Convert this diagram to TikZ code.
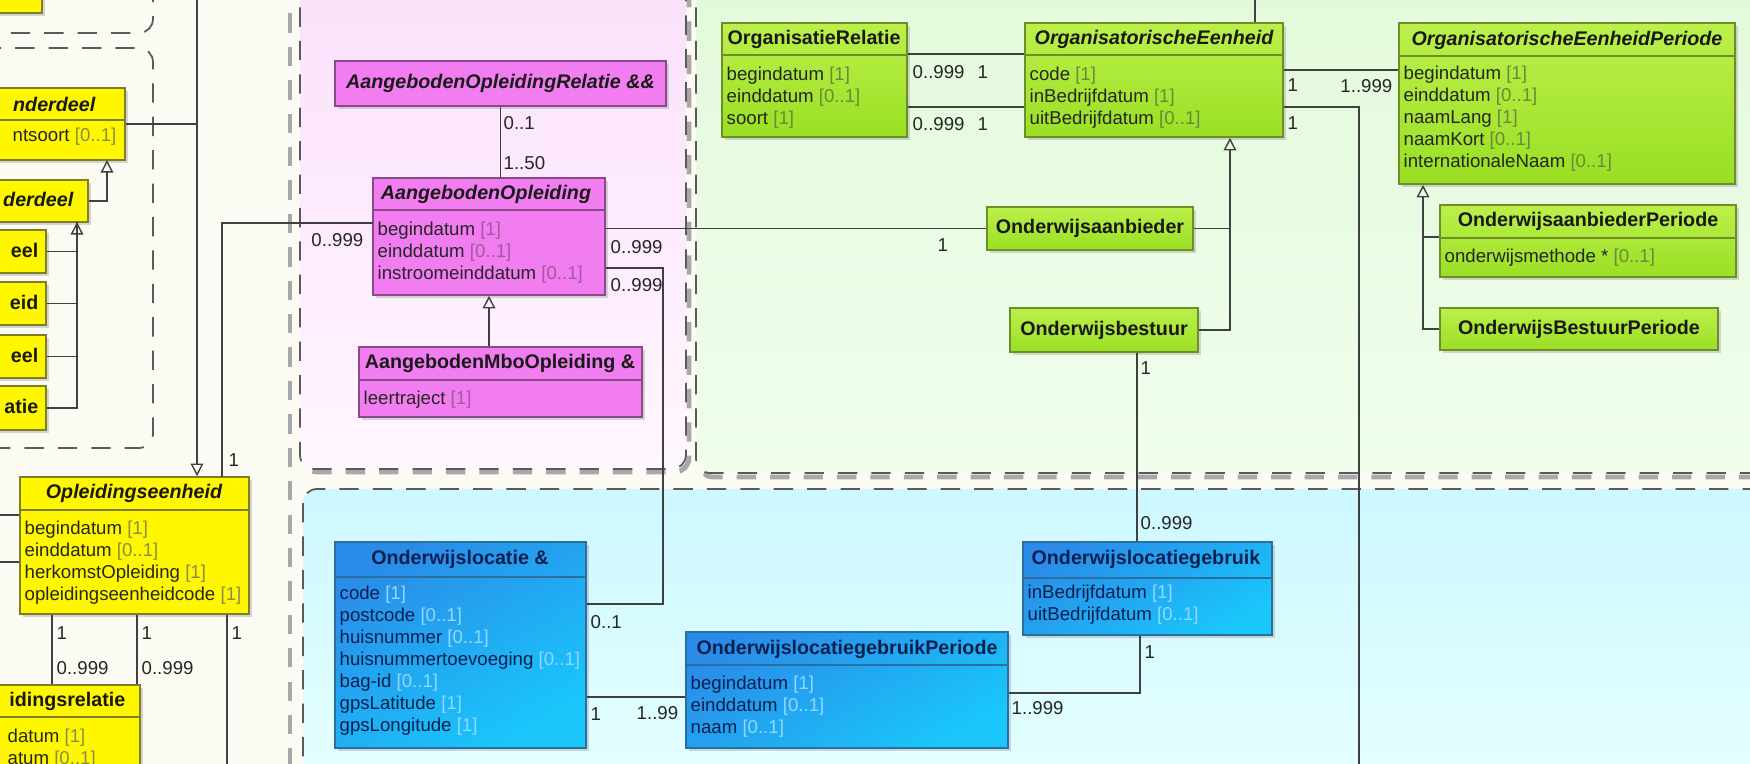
\documentclass[tikz,border=0pt]{standalone}
\usepackage{fontspec}
\setmainfont{Liberation Sans}
\usetikzlibrary{arrows.meta,fit,shadows}

\definecolor{leftbg}{HTML}{FBFBF3}
\definecolor{pkgline}{HTML}{5A5A5A}
\definecolor{shd}{HTML}{A8A8A8}
\definecolor{pnkpkgtop}{HTML}{FBE0FB}
\definecolor{pnkpkgbot}{HTML}{FFF6FF}
\definecolor{grnpkgtop}{HTML}{E2F9DA}
\definecolor{grnpkgbot}{HTML}{F0FEEC}
\definecolor{cyapkgtop}{HTML}{CDF8FF}
\definecolor{cyapkgbot}{HTML}{E6FFFF}
\definecolor{ylwfill}{HTML}{FFF700}
\definecolor{ylwline}{HTML}{7D7D2A}
\definecolor{ylwmc}{HTML}{8C8C4A}
\definecolor{pnkfill}{HTML}{F27DF0}
\definecolor{pnkline}{HTML}{8A4A8A}
\definecolor{pnkmc}{HTML}{A05AA0}
\definecolor{grntop}{HTML}{BCF04A}
\definecolor{grnbot}{HTML}{9ADF24}
\definecolor{grnline}{HTML}{6E8E2A}
\definecolor{grnmc}{HTML}{6A8A3A}
\definecolor{blutop}{HTML}{2A8CE8}
\definecolor{blubot}{HTML}{19C7FB}
\definecolor{bluline}{HTML}{2B6FA0}
\definecolor{blumc}{HTML}{8FD8FF}
\definecolor{bluttl}{HTML}{0C2050}
\definecolor{conline}{HTML}{404040}
\colorlet{mcol}{gray}

\newcommand{\card}[1]{\textcolor{mcol}{#1}}

\tikzset{
  box/.style={draw, line width=0.45pt, inner sep=0pt,
    drop shadow={shadow xshift=0.9pt, shadow yshift=-0.9pt, opacity=0.3}},
  ybox/.style={box, draw=ylwline, fill=ylwfill},
  pbox/.style={box, draw=pnkline, fill=pnkfill},
  gbox/.style={box, draw=grnline, top color=grntop, bottom color=grnbot},
  bbox/.style={box, draw=bluline, top color=blutop, bottom color=blubot, shading angle=30},
  ttl/.style={inner sep=0pt, text=black!90, font=\fontsize{5.6}{6.4}\selectfont\bfseries},
  ittl/.style={ttl, font=\fontsize{5.6}{6.4}\selectfont\bfseries\itshape},
  bttl/.style={ttl, text=bluttl},
  attr/.style={inner sep=0pt, anchor=north west, align=left, text=black!85,
    font=\fontsize{5.3}{6.25}\selectfont},
  yattr/.style={attr, execute at begin node={\colorlet{mcol}{ylwmc}}},
  pattr/.style={attr, execute at begin node={\colorlet{mcol}{pnkmc}}},
  gattr/.style={attr, execute at begin node={\colorlet{mcol}{grnmc}}},
  battr/.style={attr, text=bluttl, execute at begin node={\colorlet{mcol}{blumc}}},
  mlt/.style={inner sep=0pt, text=black!85, font=\fontsize{5.3}{6.25}\selectfont},
  sepl/.style={line width=0.4pt},
  conn/.style={draw=conline, line width=0.4pt},
  gen/.style={conn, -{Triangle[open, length=3.6pt, width=3.6pt]}},
  pkg/.style={draw=pkgline, line width=0.5pt, dash pattern=on 5.5pt off 4pt, rounded corners=4pt},
  pkgshd/.style={draw=shd, line width=1.4pt, dash pattern=on 5.5pt off 4pt, rounded corners=4pt},
}

\begin{document}
\begin{tikzpicture}[x=0.01cm, y=-0.01cm]
\useasboundingbox (0,0) rectangle (1750,764);
\clip (0,0) rectangle (1750,764);
\fill[leftbg] (0,0) rectangle (1750,764);

% packages
\draw[pkg] (-30,-80) rectangle (153,33);
\draw[pkg] (-30,48) rectangle (153,448);
\draw[pkgshd, rounded corners=0pt] (290,-20) -- (290,790);
\draw[pkgshd] (303,-40) rectangle (689,472);
\path[pkg, top color=pnkpkgtop, bottom color=pnkpkgbot] (300,-40) rectangle (686,469);
\draw[pkgshd] (699,-40) rectangle (1790,477);
\path[pkg, top color=grnpkgtop, bottom color=grnpkgbot] (696,-40) rectangle (1790,473);
\path[pkg, top color=cyapkgtop, bottom color=cyapkgbot] (303,489) rectangle (1790,800);

% yellow part, left
\node[ybox, fit={(-20,-20) (42,13)}] (topfrag) {};
\node[ybox, fit={(-20,88) (125,160)}] (ond) {};
\draw[sepl, ylwline] (ond.west |- 0,120) -- (ond.east |- 0,120);
\node[ittl, anchor=east] (ond-t) at (96,104) {nderdeel};
\node[yattr, anchor=east] (ond-a) at (117,137) {ntsoort \card{[0..1]}};
\node[ybox, fit={(-20,180) (88,222)}] (drd) {};
\node[ittl, anchor=east] (drd-t) at (74,199) {derdeel};
\node[ybox, fit={(-20,230) (46,273)}] (e1) {};
\node[ttl, anchor=east] (e1-t) at (39,250) {eel};
\node[ybox, fit={(-20,282) (46,325)}] (e2) {};
\node[ttl, anchor=east] (e2-t) at (39,302) {eid};
\node[ybox, fit={(-20,335) (46,378)}] (e3) {};
\node[ttl, anchor=east] (e3-t) at (39,355) {eel};
\node[ybox, fit={(-20,386) (46,430)}] (e4) {};
\node[ttl, anchor=east] (e4-t) at (39,406) {atie};

\coordinate (ondg) at (107,160);
\coordinate (drdg) at (77,222);
\coordinate (gtop) at (197,-10);
\draw[gen] (drd.east) -| (ondg);
\draw[conn] (e4.east) -| (drdg);
\draw[conn] (e1.east) -- (e1.east -| drdg);
\draw[conn] (e2.east) -- (e2.east -| drdg);
\draw[conn] (e3.east) -- (e3.east -| drdg);
\draw[gen] (e1.east -| drdg) -- (drdg);

\node[ybox, fit={(20,477) (249,614)}] (opl) {};
\draw[sepl, ylwline] (opl.west |- 0,510) -- (opl.east |- 0,510);
\node[ittl] (opl-t) at (134,493) {Opleidingseenheid};
\node[yattr] (opl-a) at (24,520) {begindatum \card{[1]}\\einddatum \card{[0..1]}\\herkomstOpleiding \card{[1]}\\opleidingseenheidcode \card{[1]}};
\node[ybox, fit={(-20,685) (140,790)}] (ir) {};
\draw[sepl, ylwline] (ir.west |- 0,717) -- (ir.east |- 0,717);
\node[ttl, anchor=east] (ir-t) at (126,701) {idingsrelatie};
\node[yattr] (ir-a) at (7,728) {datum \card{[1]}\\atum \card{[0..1]}};

\draw[gen] (gtop) -- (gtop |- opl.north);
\draw[conn] (ond.east) -- (ond.east -| gtop);
\draw[conn] (opl.west |- 0,515) -- (-5,515);
\draw[conn] (opl.west |- 0,562) -- (-5,562);
\draw[conn] (opl.south -| 52,0) -- (ir.north -| 52,0);
\draw[conn] (opl.south -| 137,0) -- (ir.north -| 137,0);
\draw[conn] (opl.south -| 227,0) -- (227,790);
\node[mlt, anchor=west] (m-o1) at (56,633) {1};
\node[mlt, anchor=west] (m-o2) at (56,668) {0..999};
\node[mlt, anchor=west] (m-o3) at (141,633) {1};
\node[mlt, anchor=west] (m-o4) at (141,668) {0..999};
\node[mlt, anchor=west] (m-o5) at (231,633) {1};

% pink package
\node[pbox, fit={(335,61) (666,106)}] (aor) {};
\node[ittl] (aor-t) at (aor.center) {AangebodenOpleidingRelatie \&\&};
\node[pbox, fit={(373,178) (605,295)}] (ao) {};
\draw[sepl, pnkline] (ao.west |- 0,210) -- (ao.east |- 0,210);
\node[ittl] (ao-t) at (486,194) {AangebodenOpleiding};
\node[pattr] (ao-a) at (377,221) {begindatum \card{[1]}\\einddatum \card{[0..1]}\\instroomeinddatum \card{[0..1]}};
\node[pbox, fit={(359,347) (642,417)}] (mbo) {};
\draw[sepl, pnkline] (mbo.west |- 0,380) -- (mbo.east |- 0,380);
\node[ttl] (mbo-t) at (500,363) {AangebodenMboOpleiding \&};
\node[pattr] (mbo-a) at (363,390) {leertraject \card{[1]}};

\draw[conn] (aor.south) -- (aor.south |- ao.north);
\node[mlt, anchor=west] (m-a1) at (503,123) {0..1};
\node[mlt, anchor=west] (m-a2) at (503,163) {1..50};
\draw[gen] (ao.south |- mbo.north) -- (ao.south);

\coordinate (aol) at (373,223);
\coordinate (oplk) at (222,477);
\draw[conn] (aol) -| (oplk);
\node[mlt, anchor=east] (m-a3) at (364,240) {0..999};
\node[mlt, anchor=west] (m-a4) at (228,460) {1};

% green package
\node[gbox, fit={(722,23) (907,137)}] (or) {};
\draw[sepl, grnline] (or.west |- 0,55) -- (or.east |- 0,55);
\node[ttl] (or-t) at (814,39) {OrganisatieRelatie};
\node[gattr] (or-a) at (726,66) {begindatum \card{[1]}\\einddatum \card{[0..1]}\\soort \card{[1]}};
\node[gbox, fit={(1025,23) (1283,137)}] (oe) {};
\draw[sepl, grnline] (oe.west |- 0,55) -- (oe.east |- 0,55);
\node[ittl] (oe-t) at (1154,39) {OrganisatorischeEenheid};
\node[gattr] (oe-a) at (1029,66) {code \card{[1]}\\inBedrijfdatum \card{[1]}\\uitBedrijfdatum \card{[0..1]}};
\node[gbox, fit={(1399,23) (1735,184)}] (oep) {};
\draw[sepl, grnline] (oep.west |- 0,56) -- (oep.east |- 0,56);
\node[ittl] (oep-t) at (1567,40) {OrganisatorischeEenheidPeriode};
\node[gattr] (oep-a) at (1403,65) {begindatum \card{[1]}\\einddatum \card{[0..1]}\\naamLang \card{[1]}\\naamKort \card{[0..1]}\\internationaleNaam \card{[0..1]}};
\node[gbox, fit={(987,207) (1193,250)}] (oa) {};
\node[ttl] (oa-t) at (oa.center) {Onderwijsaanbieder};
\node[gbox, fit={(1010,308) (1198,352)}] (ob) {};
\node[ttl] (ob-t) at (ob.center) {Onderwijsbestuur};
\node[gbox, fit={(1440,205) (1736,277)}] (oap) {};
\draw[sepl, grnline] (oap.west |- 0,238) -- (oap.east |- 0,238);
\node[ttl] (oap-t) at (1588,221) {OnderwijsaanbiederPeriode};
\node[gattr] (oap-a) at (1444,248) {onderwijsmethode * \card{[0..1]}};
\node[gbox, fit={(1440,308) (1718,350)}] (obp) {};
\node[ttl] (obp-t) at (obp.center) {OnderwijsBestuurPeriode};

\draw[conn] (or.east |- 0,54) -- (oe.west |- 0,54);
\draw[conn] (or.east |- 0,107) -- (oe.west |- 0,107);
\node[mlt, anchor=west] (m-g1) at (912,72) {0..999};
\node[mlt, anchor=west] (m-g2) at (977,72) {1};
\node[mlt, anchor=west] (m-g3) at (912,124) {0..999};
\node[mlt, anchor=west] (m-g4) at (977,124) {1};
\draw[conn] (oe.east |- 0,70) -- (oep.west |- 0,70);
\node[mlt, anchor=west] (m-g5) at (1287,85) {1};
\node[mlt, anchor=east] (m-g6) at (1393,86) {1..999};
\draw[conn] (oe.east |- 0,107) -| (1359,790);
\node[mlt, anchor=west] (m-g7) at (1287,123) {1};
\draw[conn] (oe.north -| 1255,0) -- (1255,-10);
\draw[gen] (ob.east) -| (oe.south -| 1230,0);
\draw[conn] (oa.east) -- (oa.east -| 1230,0);
\draw[gen] (obp.west) -| (oep.south -| 1423,0);
\draw[conn] (oap.west |- 0,237) -- (1423,237);

\draw[conn] (ao.east |- oa.west) -- (oa.west);
\node[mlt, anchor=west] (m-p1) at (610,247) {0..999};
\node[mlt, anchor=west] (m-p2) at (937,245) {1};

% cyan package
\node[bbox, fit={(335,542) (586,748)}] (ol) {};
\draw[sepl, bluline] (ol.west |- 0,577) -- (ol.east |- 0,577);
\node[bttl] (ol-t) at (460,559) {Onderwijslocatie \&};
\node[battr] (ol-a) at (339,585) {code \card{[1]}\\postcode \card{[0..1]}\\huisnummer \card{[0..1]}\\huisnummertoevoeging \card{[0..1]}\\bag-id \card{[0..1]}\\gpsLatitude \card{[1]}\\gpsLongitude \card{[1]}};
\node[bbox, fit={(686,632) (1008,748)}] (olgp) {};
\draw[sepl, bluline] (olgp.west |- 0,665) -- (olgp.east |- 0,665);
\node[bttl] (olgp-t) at (847,649) {OnderwijslocatiegebruikPeriode};
\node[battr] (olgp-a) at (690,675) {begindatum \card{[1]}\\einddatum \card{[0..1]}\\naam \card{[0..1]}};
\node[bbox, fit={(1023,542) (1272,635)}] (olg) {};
\draw[sepl, bluline] (olg.west |- 0,578) -- (olg.east |- 0,578);
\node[bttl] (olg-t) at (1146,559) {Onderwijslocatiegebruik};
\node[battr] (olg-a) at (1027,584) {inBedrijfdatum \card{[1]}\\uitBedrijfdatum \card{[0..1]}};

\coordinate (bend) at (663,268);
\draw[conn] (ao.east |- bend) -- (bend) |- (ol.east |- 0,604);
\node[mlt, anchor=west] (m-p3) at (610,285) {0..999};
\node[mlt, anchor=west] (m-c1) at (590,622) {0..1};
\draw[conn] (ol.east |- 0,697) -- (olgp.west |- 0,697);
\node[mlt, anchor=west] (m-c2) at (590,714) {1};
\node[mlt, anchor=west] (m-c3) at (636,713) {1..99};
\draw[conn] (olgp.east |- 0,693) -| (olg.south -| 1140,0);
\node[mlt, anchor=west] (m-c4) at (1011,708) {1..999};
\node[mlt, anchor=west] (m-c5) at (1144,652) {1};
\draw[conn] (ob.south -| 1137,0) -- (olg.north -| 1137,0);
\node[mlt, anchor=west] (m-c6) at (1140,368) {1};
\node[mlt, anchor=west] (m-c7) at (1140,523) {0..999};
\end{tikzpicture}
\end{document}
